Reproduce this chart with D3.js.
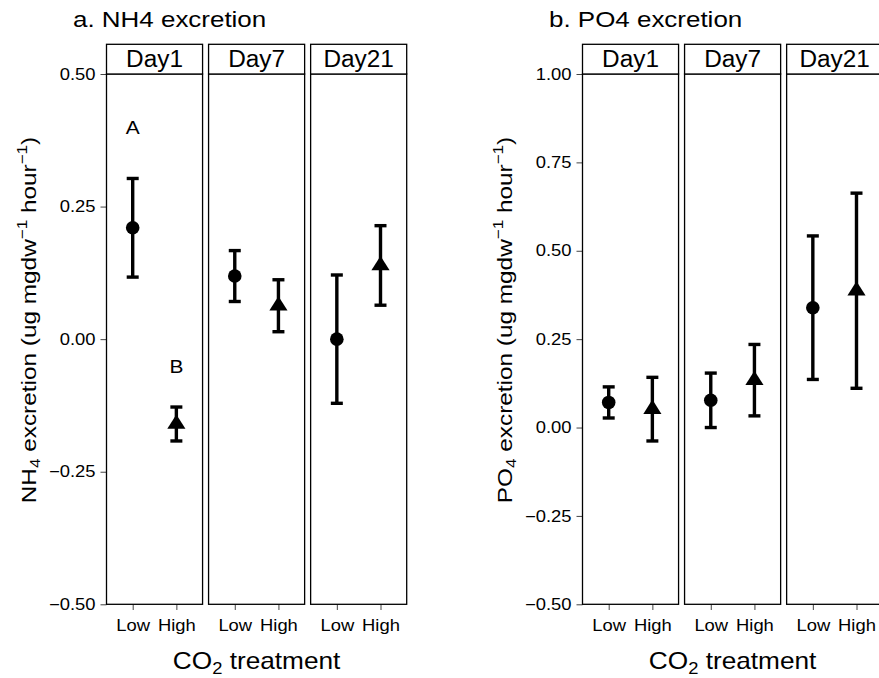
<!DOCTYPE html>
<html>
<head>
<meta charset="utf-8">
<script src="https://cdn.jsdelivr.net/npm/d3@7"></script>
<style>
  body { margin: 0; background: #fff; }
  svg { display: block; }
  text { font-family: "Liberation Sans", Helvetica, Arial, sans-serif; fill: #000; }
</style>
</head>
<body>
<div id="chart"></div>
<script>
// facets and groups
const days = ['Day1', 'Day7', 'Day21'];
const treatments = ['Low', 'High'];

// NH4 excretion (mean, se) per day
const nh4Low = [0.21, 0.119, 0.0];
const nh4LowErr = [0.093, 0.048, 0.121];
const nh4High = [-0.16, 0.063, 0.139];
const nh4HighErr = [0.032, 0.049, 0.075];

// PO4 excretion (mean, se) per day
const po4Low = [0.071, 0.077, 0.339];
const po4LowErr = [0.044, 0.077, 0.203];
const po4High = [0.052, 0.134, 0.387];
const po4HighErr = [0.09, 0.101, 0.276];

const nh4Ticks = [-0.5, -0.25, 0, 0.25, 0.5];
const po4Ticks = [-0.5, -0.25, 0, 0.25, 0.5, 0.75, 1.0];

// significance letters
const nh4Letters = [
  {day: 'Day1', trt: 'Low', y: 0.4, label: 'A'},
  {day: 'Day1', trt: 'High', y: -0.05, label: 'B'}
];

const width = 879, height = 678;
const panelTop = 74, panelBottom = 604.3, stripTop = 44.3;
const K = 1.15; // the source font sets wider than Arial

const svg = d3.select('#chart').append('svg')
  .attr('width', width)
  .attr('height', height);

function rows(low, lowErr, high, highErr) {
  return days.flatMap((d, i) => [
    {day: d, trt: 'Low', mean: low[i], err: lowErr[i]},
    {day: d, trt: 'High', mean: high[i], err: highErr[i]}
  ]);
}

function stretched(parent, x, y, size, k, rotate) {
  return parent.append('text')
    .attr('transform', `translate(${x},${y})${rotate ? ' rotate(-90)' : ''} scale(${k},1)`)
    .style('font-size', size + 'px');
}

function addParts(text, parts, size) {
  let shift = 0;
  parts.forEach(p => {
    const target = p.sub ? size * 0.22 : p.sup ? -size * 0.42 : 0;
    text.append('tspan')
      .attr('dy', target - shift)
      .style('font-size', (p.sub || p.sup ? size * 0.7 : size) + 'px')
      .text(p.t);
    shift = target;
  });
}

function drawFacets(opts) {
  const g = svg.append('g');
  const fx = d3.scaleBand().domain(days).range([opts.x0, opts.x1]).paddingInner(0.0588);
  const bw = fx.bandwidth();
  const x = d3.scalePoint().domain(treatments).range([0, bw]).padding(0.6);
  const y = d3.scaleLinear().domain(opts.domain).range([panelBottom, panelTop]);
  const cx = d => fx(d.day) + x(d.trt);

  // y axis
  const ya = g.append('g')
    .attr('transform', `translate(${opts.x0},0)`)
    .call(d3.axisLeft(y).tickValues(opts.ticks).tickFormat(d3.format('.2f'))
      .tickSize(6).tickPadding(5).tickSizeOuter(0));
  ya.select('.domain').remove();
  ya.selectAll('line').attr('stroke', '#444');
  ya.selectAll('text')
    .style('font-size', '16px')
    .attr('fill', '#000')
    .attr('x', -11 / K)
    .attr('transform', `scale(${K},1)`);

  days.forEach(day => {
    const xa = g.append('g')
      .attr('transform', `translate(${fx(day)},${panelBottom})`)
      .call(d3.axisBottom(x).tickSize(5.7).tickPadding(9.7).tickSizeOuter(0));
    xa.select('.domain').remove();
    xa.selectAll('line').attr('stroke', '#444');
    xa.selectAll('text')
      .style('font-size', '16px')
      .attr('fill', '#000')
      .attr('transform', `scale(${K},1)`);
  });

  const data = opts.data;

  // error bars
  const eb = g.append('g').attr('stroke', '#000').attr('stroke-width', 3.4);
  eb.selectAll('line.v').data(data).join('line').attr('class', 'v')
    .attr('x1', cx).attr('x2', cx)
    .attr('y1', d => y(d.mean - d.err)).attr('y2', d => y(d.mean + d.err));
  ['lo', 'hi'].forEach(end => {
    const v = d => y(end === 'lo' ? d.mean - d.err : d.mean + d.err);
    eb.selectAll('line.' + end).data(data).join('line').attr('class', end)
      .attr('x1', d => cx(d) - 6).attr('x2', d => cx(d) + 6)
      .attr('y1', v).attr('y2', v);
  });

  // points
  g.selectAll('circle.pt').data(data.filter(d => d.trt === 'Low')).join('circle')
    .attr('class', 'pt')
    .attr('cx', cx).attr('cy', d => y(d.mean)).attr('r', 6.8)
    .attr('fill', '#000');
  const tri = d3.symbol(d3.symbolTriangle, 118);
  g.selectAll('path.pt').data(data.filter(d => d.trt === 'High')).join('path')
    .attr('class', 'pt')
    .attr('transform', d => `translate(${cx(d)},${y(d.mean)}) scale(1.1,1)`)
    .attr('d', tri)
    .attr('fill', '#000');

  // letters
  (opts.letters || []).forEach(l => {
    stretched(g, cx(l), y(l.y), 19, 1.1).attr('text-anchor', 'middle').attr('dy', '0.36em').text(l.label);
  });

  // panel borders and strips
  days.forEach(day => {
    g.append('rect')
      .attr('x', fx(day)).attr('y', panelTop).attr('width', bw).attr('height', panelBottom - panelTop)
      .attr('fill', 'none').attr('stroke', '#000').attr('stroke-width', 1.3);
    g.append('rect')
      .attr('x', fx(day)).attr('y', stripTop).attr('width', bw).attr('height', panelTop - stripTop)
      .attr('fill', '#fff').attr('stroke', '#000').attr('stroke-width', 1.3);
    stretched(g, fx(day) + bw / 2, 66.7, 23, 1.06).attr('text-anchor', 'middle').text(day);
  });

  // titles
  stretched(svg, opts.titleX, 27, 22, 1.18).text(opts.title);
  const yt = stretched(svg, opts.x0 - 70.7, 320, 21, 1.16, true).attr('text-anchor', 'middle');
  addParts(yt, [
    {t: opts.ion}, {t: '4', sub: true}, {t: ' excretion (ug mgdw'}, {t: '\u22121', sup: true},
    {t: ' hour'}, {t: '\u22121', sup: true}, {t: ')'}
  ], 21);
  const xt = stretched(svg, (opts.x0 + opts.x1) / 2, 669, 23, 1.14).attr('text-anchor', 'middle');
  addParts(xt, [{t: 'CO'}, {t: '2', sub: true}, {t: ' treatment'}], 23);
}

drawFacets({
  x0: 106.5, x1: 406.7,
  domain: [-0.5, 0.5], ticks: nh4Ticks,
  data: rows(nh4Low, nh4LowErr, nh4High, nh4HighErr),
  letters: nh4Letters,
  title: 'a. NH4 excretion', titleX: 73, ion: 'NH'
});

drawFacets({
  x0: 582.5, x1: 882.7,
  domain: [-0.5, 1.0], ticks: po4Ticks,
  data: rows(po4Low, po4LowErr, po4High, po4HighErr),
  title: 'b. PO4 excretion', titleX: 549, ion: 'PO'
});
</script>
</body>
</html>
